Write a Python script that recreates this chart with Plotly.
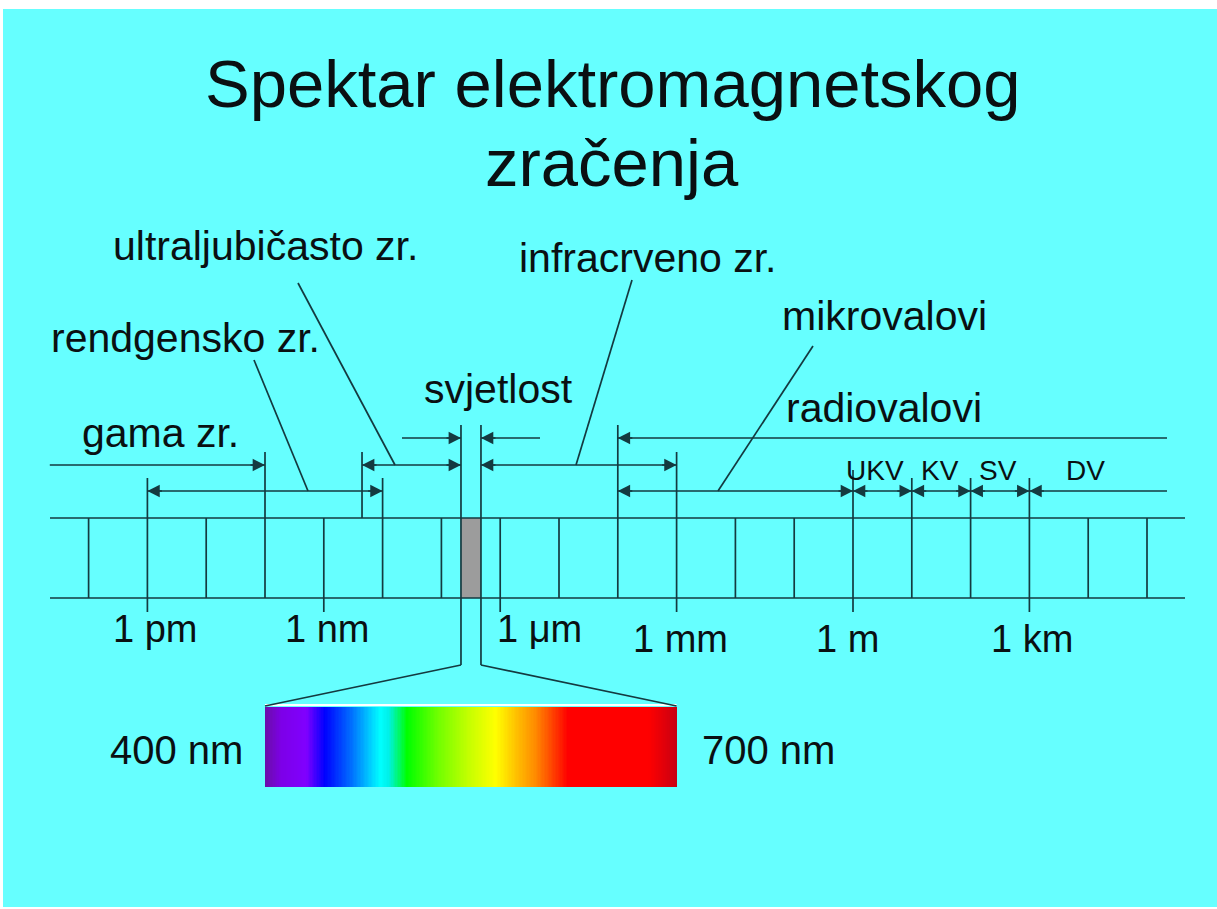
import numpy as np
import plotly.graph_objects as go

# ---------------- data ----------------
# wavelength scale: log10(lambda / m)
decade_exp = list(range(-13, 6))
tick_exp = [-12, -9, -6, -3, 0, 3]
tick_labels = ["1 pm", "1 nm", "1 μm", "1 mm", "1 m", "1 km"]

band_names = ["gama zr.", "rendgensko zr.", "ultraljubičasto zr.", "svjetlost",
              "infracrveno zr.", "mikrovalovi", "radiovalovi"]
band_from = [-13.66, -12.0, -8.35, -6.667, -6.327, -4.0, -4.0]
band_to = [-10.0, -8.0, -6.667, -6.327, -3.0, 0.0, 5.34]

radio_names = ["UKV", "KV", "SV", "DV"]
radio_from = [0.0, 1.0, 2.0, 3.0]
radio_to = [1.0, 2.0, 3.0, 5.34]

visible_nm = [400, 700]
visible_labels = ["400 nm", "700 nm"]
spectrum_stop_nm = [400, 412, 430, 443.5, 463, 484, 490, 503.5, 526, 547, 568,
                    583, 596.5, 607, 620.5, 679, 700]
spectrum_stop_col = ["#6a0fa6", "#7d00e8", "#8000ff", "#0000ff", "#0070ff", "#00ffff",
                     "#00f0e8", "#00ff00", "#70ff00", "#c0ff00", "#ffff00", "#ffc000",
                     "#ff8c00", "#ff5000", "#ff0000", "#ff0000", "#c80012"]

title_lines = ["Spektar elektromagnetskog", "zračenja"]

# ---------------- layout geometry ----------------
W, H = 1217, 909
PX0, PX_PER_DEC = 853.0, 58.8          # pixel of 1 m and pixels per decade
PLOT_L, PLOT_R, PLOT_T, PLOT_B = 3, 1217, 9, 907


def ex(px):
    return (px - PX0) / PX_PER_DEC


X_RANGE = [ex(PLOT_L), ex(PLOT_R)]
BAR_L_EXP, BAR_R_EXP = -10.0, -3.0


def nm_of(e):
    return visible_nm[0] + (e - BAR_L_EXP) * (visible_nm[1] - visible_nm[0]) / (BAR_R_EXP - BAR_L_EXP)


LINE = "#143a40"
TXT = "#0a1012"
LW = 1.7
FONT = "Liberation Sans, Arial, sans-serif"

ROW_A, ROW_B, ROW_C = 438, 465, 491
SC_TOP, SC_BOT, TICK_END = 518, 598, 612
BAR_TOP, BAR_BOT = 707, 787

fig = go.Figure()

segx, segy = [], []


def seg(x0, y0, x1, y1):
    segx.extend([x0, x1, None])
    segy.extend([y0, y1, None])


# scale frame
seg(ex(50), SC_TOP, ex(1185), SC_TOP)
seg(ex(50), SC_BOT, ex(1185), SC_BOT)

# decade lines
span_override = {-12: (478, TICK_END), -10: (452, SC_BOT), -9: (SC_TOP, TICK_END),
                 -8: (478, SC_BOT), -6: (SC_TOP, TICK_END), -4: (425, SC_BOT),
                 -3: (452, TICK_END), 0: (470, TICK_END), 1: (478, SC_BOT),
                 2: (478, SC_BOT), 3: (478, TICK_END)}
for e in decade_exp:
    y0, y1 = span_override.get(e, (SC_TOP, SC_BOT))
    seg(e, y0, e, y1)

# UV left edge
seg(band_from[2], 452, band_from[2], SC_TOP)
# visible edges + funnel
seg(band_from[3], 425, band_from[3], 665)
seg(band_from[3], 665, BAR_L_EXP, 706)
seg(band_to[3], 425, band_to[3], 665)
seg(band_to[3], 665, BAR_R_EXP, 706)

# leader lines
seg(ex(298), 283, ex(395), ROW_B)   # UV
seg(ex(254), 360, ex(308), ROW_C)   # X-ray
seg(ex(632), 280, ex(576), ROW_B)   # IR
seg(ex(813), 346, ex(718), ROW_C)   # micro

# arrow shafts
arrows = []  # (x_from, x_to, y, head_start, head_end)
arrows.append((band_from[0], band_to[0], ROW_B, False, True))
arrows.append((band_from[1], band_to[1], ROW_C, True, True))
arrows.append((band_from[2], band_to[2], ROW_B, True, True))
arrows.append((ex(402), band_from[3], ROW_A, False, True))
arrows.append((ex(540), band_to[3], ROW_A, False, True))
arrows.append((band_from[4], band_to[4], ROW_B, True, True))
arrows.append((band_from[5], band_to[5], ROW_C, True, True))
arrows.append((band_from[6], band_to[6], ROW_A, True, False))
for i in range(len(radio_names)):
    last = i == len(radio_names) - 1
    arrows.append((radio_from[i], radio_to[i], ROW_C, True, not last))

annotations = []
for x0, x1, y, hs, he in arrows:
    seg(x0, y, x1, y)
    for hx, other, flag in ((x0, x1, hs), (x1, x0, he)):
        if flag:
            d = 1 if other > hx else -1
            annotations.append(dict(x=hx, y=y, xref="x", yref="y", ax=d * 16, ay=0,
                                    text="", showarrow=True, arrowhead=2, arrowsize=1.45,
                                    arrowwidth=LW, arrowcolor=LINE, standoff=0))

# gray visible band
fig.add_shape(type="rect", xref="x", yref="y", x0=band_from[3], x1=band_to[3],
              y0=SC_TOP, y1=SC_BOT, fillcolor="#9c9c9c", line_width=0, layer="below")

# spectrum bar
nm_edges = np.arange(visible_nm[0], visible_nm[1] + 1, 1.0)
nm_centers = (nm_edges[:-1] + nm_edges[1:]) / 2
cscale = [[(s - visible_nm[0]) / (visible_nm[1] - visible_nm[0]), c]
          for s, c in zip(spectrum_stop_nm, spectrum_stop_col)]
fig.add_trace(go.Heatmap(x=nm_edges, y=[BAR_TOP, BAR_BOT], z=[nm_centers],
                         colorscale=cscale, zmin=visible_nm[0], zmax=visible_nm[1],
                         showscale=False, hoverinfo="skip", xaxis="x2", yaxis="y"))
fig.add_trace(go.Scatter(x=[BAR_L_EXP, BAR_R_EXP], y=[705, 705], mode="lines",
                         line=dict(color="white", width=2), hoverinfo="skip", showlegend=False))

fig.add_trace(go.Scatter(x=segx, y=segy, mode="lines", line=dict(color=LINE, width=LW),
                         hoverinfo="skip", showlegend=False))


def label(text, cx_px, base_px, size):
    annotations.append(dict(x=ex(cx_px), y=base_px - 0.35 * size, xref="x", yref="y",
                            text=text, showarrow=False, xanchor="center", yanchor="middle",
                            font=dict(family=FONT, size=size, color=TXT)))


label(title_lines[0], 613, 107, 67)
label(title_lines[1], 612, 186, 67)

band_label_pos = [(160, 447), (185, 352), (265, 260), (498, 403), (648, 272), (884, 330), (884, 422)]
for name, (cx, by) in zip(band_names, band_label_pos):
    label(name, cx, by, 41)

radio_label_x = [875, 940, 998, 1085]
for name, cx in zip(radio_names, radio_label_x):
    label(name, cx, 480, 28)

tick_label_pos = [(155, 642), (327, 642), (539, 642), (680, 652), (847, 652), (1032, 652)]
for t, (cx, by) in zip(tick_labels, tick_label_pos):
    label(t, cx, by, 38)

for t, cx in zip(visible_labels, [176, 768]):
    label(t, cx, 764, 40)

fig.update_layout(
    width=W, height=H,
    margin=dict(l=PLOT_L, r=W - PLOT_R, t=PLOT_T, b=H - PLOT_B, pad=0),
    paper_bgcolor="white", plot_bgcolor="#66ffff",
    showlegend=False,
    xaxis=dict(range=X_RANGE, visible=False, fixedrange=True),
    xaxis2=dict(range=[nm_of(X_RANGE[0]), nm_of(X_RANGE[1])], overlaying="x",
                anchor="y", visible=False, fixedrange=True),
    yaxis=dict(range=[PLOT_B, PLOT_T], visible=False, fixedrange=True),
    annotations=annotations,
)

fig.write_html("out.html", config={"displayModeBar": False},
               post_script="document.body.style.margin='0px';document.body.style.overflow='hidden';")
